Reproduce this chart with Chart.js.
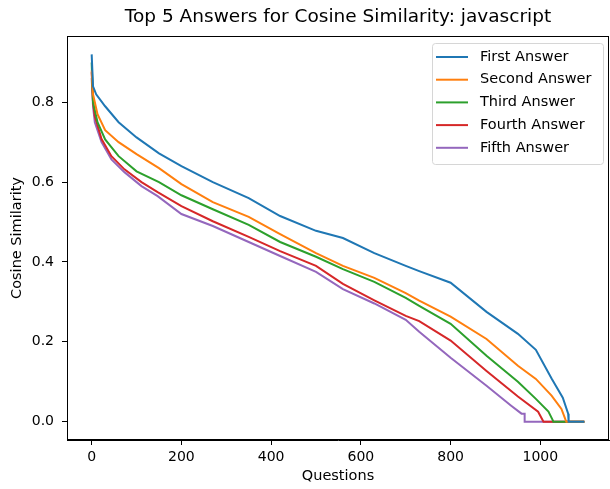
<!DOCTYPE html>
<html>
<head>
<meta charset="utf-8">
<script src="https://cdn.jsdelivr.net/npm/chart.js@4"></script>
<style>
  html, body { margin: 0; padding: 0; background: #fff; }
  #wrap { width: 610px; height: 489px; }
</style>
</head>
<body>
<div id="wrap"><canvas id="chart"></canvas></div>
<script>
// [question index, cosine similarity]
const firstAnswer = [[0,0.92],[3,0.84],[10,0.82],[30,0.79],[60,0.75],[100,0.712],[150,0.672],[200,0.64],[270,0.60],[350,0.56],[420,0.515],[500,0.478],[560,0.46],[630,0.422],[700,0.39],[730,0.377],[800,0.348],[880,0.275],[950,0.22],[990,0.18],[1025,0.108],[1050,0.06],[1062,0.02],[1063,0],[1098,0]];
const secondAnswer = [[0,0.88],[3,0.82],[13,0.77],[30,0.73],[60,0.70],[100,0.67],[150,0.635],[200,0.595],[270,0.55],[350,0.513],[420,0.47],[500,0.422],[560,0.39],[630,0.36],[700,0.322],[730,0.303],[800,0.263],[880,0.207],[950,0.14],[990,0.107],[1025,0.065],[1047,0.032],[1056,0.005],[1058,0],[1098,0]];
const thirdAnswer = [[0,0.90],[3,0.80],[13,0.75],[30,0.707],[60,0.665],[100,0.627],[150,0.60],[200,0.567],[270,0.532],[350,0.493],[420,0.45],[500,0.413],[560,0.382],[630,0.35],[700,0.31],[730,0.29],[800,0.245],[880,0.165],[950,0.10],[990,0.057],[1018,0.025],[1027,0.005],[1029,0],[1098,0]];
const fourthAnswer = [[0,0.875],[3,0.80],[7,0.765],[22,0.708],[44,0.665],[73,0.632],[111,0.60],[147,0.575],[200,0.54],[270,0.502],[350,0.463],[420,0.427],[500,0.39],[560,0.345],[630,0.304],[700,0.265],[730,0.252],[800,0.203],[880,0.127],[950,0.063],[995,0.025],[1007,0],[1098,0]];
const fifthAnswer = [[0,0.86],[3,0.79],[7,0.75],[22,0.70],[44,0.657],[73,0.625],[111,0.59],[147,0.565],[200,0.52],[270,0.49],[350,0.45],[420,0.415],[500,0.375],[560,0.332],[630,0.296],[700,0.255],[730,0.225],[800,0.16],[880,0.09],[935,0.04],[958,0.02],[965,0.02],[965,0],[1098,0]];

const seriesNames = ["First Answer", "Second Answer", "Third Answer", "Fourth Answer", "Fifth Answer"];
const seriesColors = ["#1f77b4", "#ff7f0e", "#2ca02c", "#d62728", "#9467bd"];
const xTicks = [0, 200, 400, 600, 800, 1000];
const yTicks = [0.0, 0.2, 0.4, 0.6, 0.8];
const chartTitle = "Top 5 Answers for Cosine Similarity: javascript";

const FONT = "'DejaVu Sans', sans-serif";

const allSeries = [firstAnswer, secondAnswer, thirdAnswer, fourthAnswer, fifthAnswer];

// frame around the plot, title centred over the axes, and a matplotlib-like legend
const framePlugin = {
  id: "frame",
  afterDraw(chart) {
    const { ctx, chartArea: a } = chart;
    ctx.save();
    ctx.strokeStyle = "#000";
    ctx.lineWidth = 1;
    ctx.strokeRect(a.left + 0.5, a.top + 0.5, a.right - a.left - 1, a.bottom - a.top - 1);

    ctx.fillStyle = "#000";
    ctx.font = "18.5px " + FONT;
    ctx.textAlign = "center";
    ctx.textBaseline = "middle";
    ctx.fillText(chartTitle, (a.left + a.right) / 2, 17);

    const boxW = 171, boxH = 121;
    const bx = a.right - 6 - boxW, by = a.top + 7;
    ctx.fillStyle = "rgba(255,255,255,0.8)";
    ctx.strokeStyle = "#d6d6d6";
    ctx.beginPath();
    ctx.roundRect(bx + 0.5, by + 0.5, boxW, boxH, 3);
    ctx.fill();
    ctx.stroke();

    ctx.font = "14.5px " + FONT;
    ctx.textAlign = "left";
    ctx.fillStyle = "#000";
    chart.data.datasets.forEach((ds, i) => {
      const y = by + 14 + i * 22.7;
      ctx.strokeStyle = ds.borderColor;
      ctx.lineWidth = 2;
      ctx.beginPath();
      ctx.moveTo(bx + 4, y);
      ctx.lineTo(bx + 36, y);
      ctx.stroke();
      ctx.fillText(ds.label, bx + 48, y);
    });
    ctx.restore();
  }
};

new Chart(document.getElementById("chart"), {
  type: "line",
  data: {
    datasets: allSeries.map((s, i) => ({
      label: seriesNames[i],
      data: s.map(([x, y]) => ({ x, y })),
      borderColor: seriesColors[i],
      backgroundColor: seriesColors[i],
      borderWidth: 2,
      pointRadius: 0,
      tension: 0,
      fill: false
    }))
  },
  options: {
    responsive: true,
    maintainAspectRatio: false,
    animation: false,
    layout: { padding: { left: 0, right: 1, top: 36, bottom: 0 } },
    plugins: {
      legend: { display: false },
      tooltip: { enabled: false },
      title: { display: false }
    },
    scales: {
      x: {
        type: "linear",
        min: -55,
        max: 1153,
        afterBuildTicks: axis => { axis.ticks = xTicks.map(v => ({ value: v })); },
        afterFit: axis => { axis.height = 49; },
        grid: { drawOnChartArea: false, drawTicks: true, tickLength: 5, color: "#000" },
        border: { display: true, color: "#000" },
        ticks: {
          color: "#000",
          font: { family: FONT, size: 14 },
          padding: 4,
          maxRotation: 0,
          callback: v => String(v)
        },
        title: {
          display: true,
          text: "Questions",
          color: "#000",
          font: { family: FONT, size: 14.5 },
          padding: { top: 0, bottom: 4 }
        }
      },
      y: {
        min: -0.046,
        max: 0.966,
        afterBuildTicks: axis => { axis.ticks = yTicks.map(v => ({ value: v })); },
        afterFit: axis => { axis.width = 67; },
        grid: { drawOnChartArea: false, drawTicks: true, tickLength: 5, color: "#000" },
        border: { display: true, color: "#000" },
        ticks: {
          color: "#000",
          font: { family: FONT, size: 14 },
          padding: 8,
          callback: v => v.toFixed(1)
        },
        title: {
          display: true,
          text: "Cosine Similarity",
          color: "#000",
          font: { family: FONT, size: 14.5 },
          padding: { top: 9, bottom: 0 }
        }
      }
    }
  },
  plugins: [framePlugin]
});
</script>
</body>
</html>
